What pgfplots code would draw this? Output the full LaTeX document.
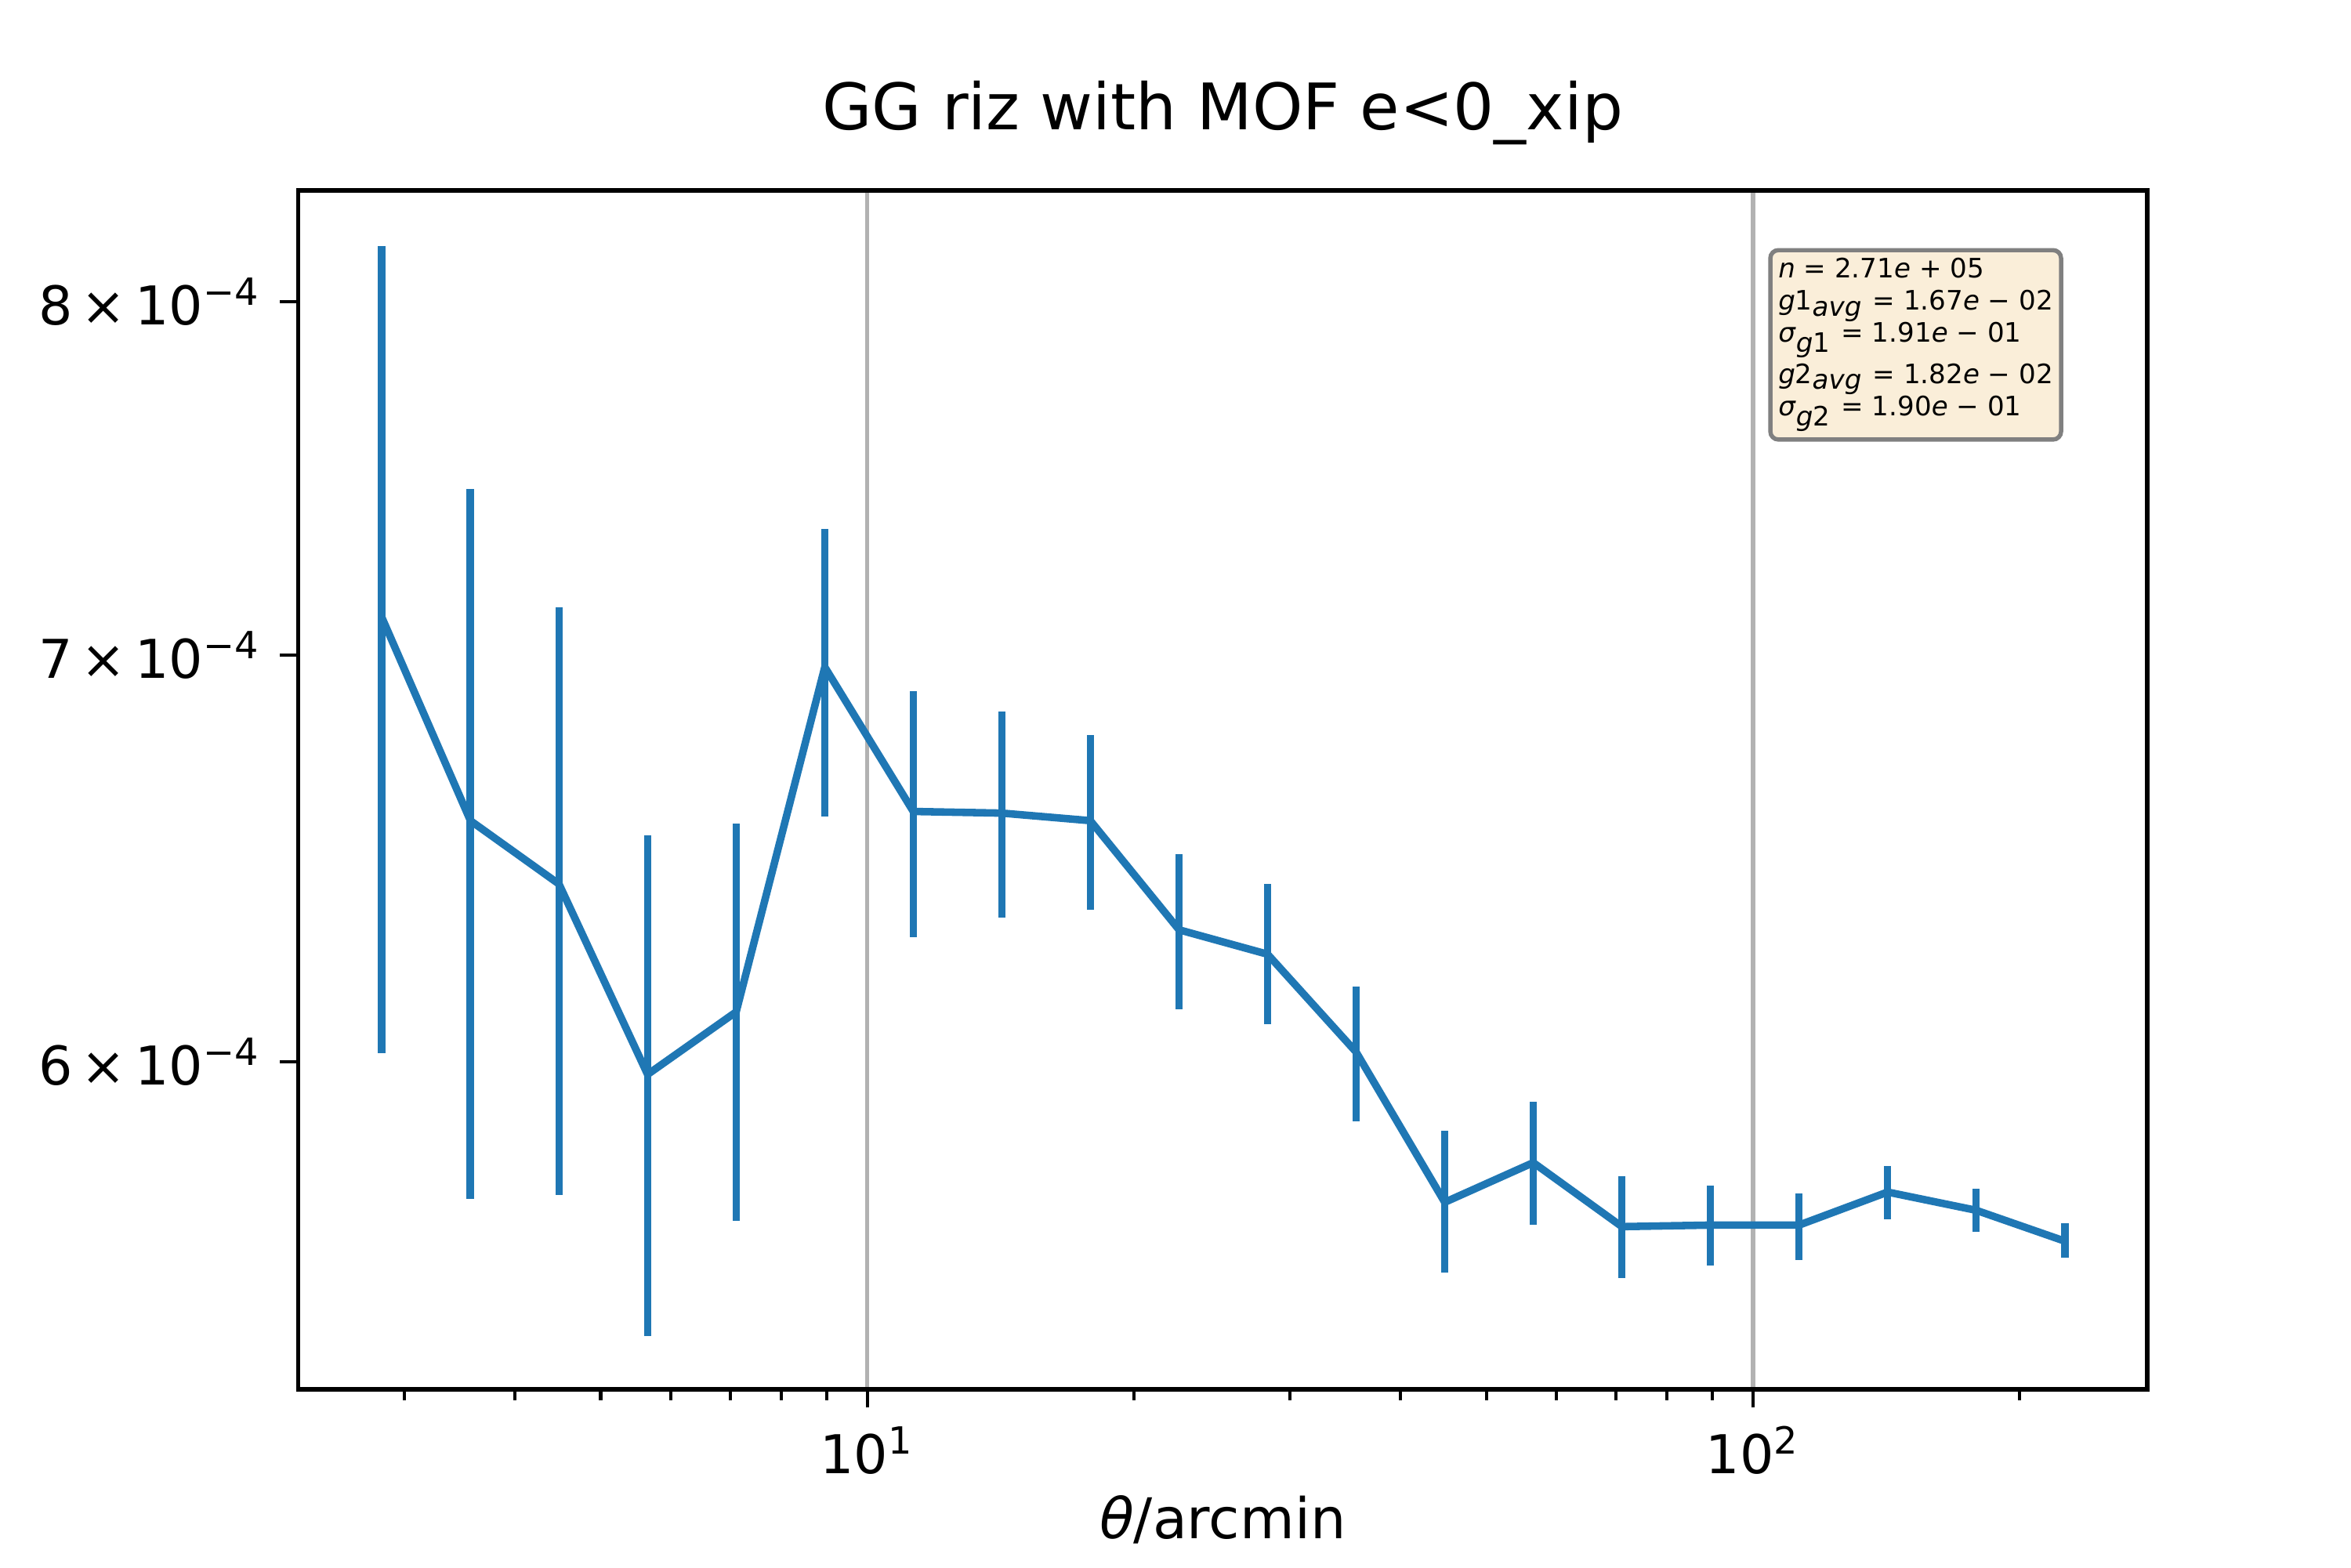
\documentclass[border=0pt]{standalone}
\usepackage{pgfplots}
\pgfplotsset{compat=1.18}
\usepackage{pgfplotstable}
\usepackage{fontspec}
\setmainfont{DejaVu Sans}
\definecolor{mplblue}{HTML}{1F77B4}
\definecolor{boxfill}{RGB}{250,238,217}
\pgfplotstableread{
x y ep em
2.831 7.10e-4 1.07e-4 1.08e-4
3.564 6.574e-4 0.879e-4 0.877e-4
4.487 6.418e-4 0.708e-4 0.712e-4
5.649 5.972e-4 0.565e-4 0.563e-4
7.112 6.115e-4 0.452e-4 0.465e-4
8.954 6.968e-4 0.374e-4 0.383e-4
11.27 6.597e-4 0.307e-4 0.307e-4
14.19 6.593e-4 0.259e-4 0.256e-4
17.86 6.574e-4 0.216e-4 0.219e-4
22.49 6.308e-4 0.183e-4 0.186e-4
28.31 6.250e-4 0.168e-4 0.164e-4
35.64 6.023e-4 0.151e-4 0.156e-4
44.87 5.690e-4 0.156e-4 0.150e-4
56.49 5.776e-4 0.134e-4 0.135e-4
71.12 5.638e-4 0.108e-4 0.108e-4
89.54 5.641e-4 0.085e-4 0.086e-4
112.7 5.641e-4 0.068e-4 0.073e-4
141.9 5.712e-4 0.057e-4 0.058e-4
178.6 5.673e-4 0.046e-4 0.046e-4
224.9 5.607e-4 0.039e-4 0.035e-4
}\data
\begin{document}
\begin{tikzpicture}
\useasboundingbox (-1.96,-1.17) rectangle (13.49,9.13);
\begin{axis}[
  at={(0,0)}, anchor=south west, scale only axis,
  width=12.15cm, height=7.88cm,
  xmode=log, ymode=log,
  xmin=2.278, xmax=278.6, ymin=5.301e-4, ymax=8.344e-4,
  xtick pos=bottom, ytick pos=left,
  xtick={10,100}, xticklabels={10\textsuperscript{1},10\textsuperscript{2}},
  minor xtick={3,4,5,6,7,8,9,20,30,40,50,60,70,80,90,200},
  ytick={6e-4,7e-4,8e-4},
  yticklabels={6\,×\,10\textsuperscript{−4},7\,×\,10\textsuperscript{−4},8\,×\,10\textsuperscript{−4}},
  minor ytick={},
  xmajorgrids, major grid style={gray!60, line width=0.8pt},
  tick align=outside, tick style={black, line width=0.6pt},
  major tick length=0.12cm, minor tick length=0.07cm,
  axis line style={line width=0.8pt},
  ticklabel style={font=\fontsize{10}{12}\selectfont},
  xlabel={\textit{θ}/arcmin}, xlabel style={font=\fontsize{10.5}{12}\selectfont, yshift=3pt},
  title={GG riz with MOF e<0\_xip}, title style={font=\fontsize{12}{14}\selectfont, yshift=-1pt},
]
\addplot[mplblue, line width=1.4pt, mark=none,
  error bars/.cd, y dir=both, y explicit, error bar style={line width=1.4pt}, error mark=none]
  table[x=x, y=y, y error plus=ep, y error minus=em] {\data};
\end{axis}
\node[anchor=north west, draw=gray, line width=0.8pt, fill=boxfill, rounded corners=1.5pt,
  inner sep=1.5pt, align=left, font=\fontsize{5}{6}\selectfont] at (9.66,7.50)
{\textit{n} = 2.71\textit{e} + 05\\
\textit{g}1\textsubscript{\textit{avg}} = 1.67\textit{e} − 02\\
\textit{σ}\textsubscript{\textit{g}1} = 1.91\textit{e} − 01\\
\textit{g}2\textsubscript{\textit{avg}} = 1.82\textit{e} − 02\\
\textit{σ}\textsubscript{\textit{g}2} = 1.90\textit{e} − 01};
\end{tikzpicture}
\end{document}
